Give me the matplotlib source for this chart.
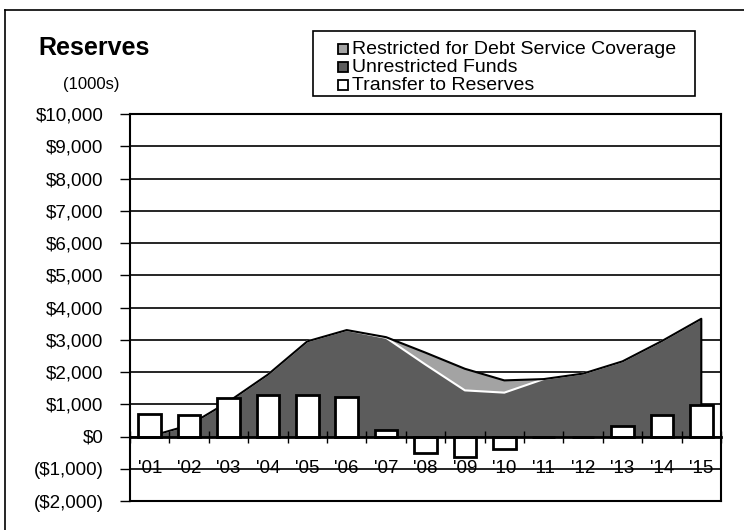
import numpy as np
import matplotlib.pyplot as plt
from matplotlib.patches import Rectangle
from matplotlib.lines import Line2D

plt.rcParams['font.family'] = ['Liberation Sans', 'DejaVu Sans']

# reserves by fiscal year, in $1000s
years = ["'01", "'02", "'03", "'04", "'05", "'06", "'07", "'08",
         "'09", "'10", "'11", "'12", "'13", "'14", "'15"]
unrestricted = [0, 350, 1080, 1920, 2950, 3300, 3060, 2230,
                1430, 1360, 1780, 1950, 2330, 2960, 3650]
restricted = [0, 0, 0, 0, 0, 0, 20, 370, 670, 380, 0, 0, 0, 0, 0]
transfer = [690, 670, 1180, 1300, 1280, 1230, 200, -500,
            -640, -400, 0, 0, 330, 680, 990]

W, H = 744, 530
fig = plt.figure(figsize=(W / 100, H / 100), dpi=100)
ax = fig.add_axes([130 / W, 1 - 501 / H, 591 / W, 387 / H])

def px(x, y):
    return x / W, 1 - y / H

x = np.arange(len(years))
unres = np.array(unrestricted, dtype=float)
total = unres + np.array(restricted, dtype=float)

# gridlines every 1000
for v in range(-1000, 10000, 1000):
    ax.axhline(v, color='black', lw=1.2, zorder=0)

ax.fill_between(x, 0, unres, facecolor='#5c5c5c', edgecolor='none', zorder=1)
ax.fill_between(x, unres, total, facecolor='#a3a3a3', edgecolor='none', zorder=1)
ax.plot(x, unres, color='white', lw=1.5, zorder=2)
ax.plot(list(x) + [x[-1]], list(total) + [0], color='black', lw=1.5, zorder=2)

ax.bar(x, transfer, width=0.57, facecolor='white', edgecolor='black',
       linewidth=2, zorder=3)

ax.set_xlim(-0.5, len(years) - 0.5)
ax.set_ylim(-2000, 10000)
ax.set_yticks(range(-2000, 10001, 1000))
ax.set_yticklabels(['($2,000)', '($1,000)', '$0'] +
                   ['${:,}'.format(v) for v in range(1000, 10001, 1000)])
ax.tick_params(axis='y', direction='out', length=7, width=1, pad=12,
               labelsize=13.5)

# category axis sits at zero, labels ride on the -1000 line
ax.spines['bottom'].set_position(('data', 0))
ax.spines['bottom'].set_linewidth(2)
ax.spines['bottom'].set_zorder(4)
ax.set_xticks(np.arange(-0.5, len(years), 1))
ax.tick_params(axis='x', direction='inout', length=9, width=1,
               labelbottom=False)
for sp in ['top', 'left', 'right']:
    ax.spines[sp].set_linewidth(1.5)
ax.axhline(-2000, color='black', lw=1.5, clip_on=False, zorder=4)
for i, lab in enumerate(years):
    ax.text(i, -1000, lab, ha='center', va='center', fontsize=13.5, zorder=5)

# titles
fig.text(*px(38, 48), 'Reserves', fontsize=18, fontweight='bold',
         ha='left', va='center')
fig.text(*px(91, 85), '(1000s)', fontsize=12, ha='center', va='center')

# outer frame (top and left edges)
fig.add_artist(Line2D([5 / W, 1], [1 - 10 / H] * 2, color='black', lw=1.2,
                      transform=fig.transFigure))
fig.add_artist(Line2D([5 / W] * 2, [0, 1 - 10 / H], color='black', lw=1.2,
                      transform=fig.transFigure))

# legend
bx0, by0, bx1, by1 = 313, 31, 695, 96
fig.add_artist(Rectangle(px(bx0, by1), (bx1 - bx0) / W, (by1 - by0) / H,
                         facecolor='white', edgecolor='black', lw=1.2,
                         transform=fig.transFigure))
entries = [('Restricted for Debt Service Coverage', '#a3a3a3'),
           ('Unrestricted Funds', '#5c5c5c'),
           ('Transfer to Reserves', 'white')]
for k, (lab, col) in enumerate(entries):
    yc = 49 + 18 * k
    fig.add_artist(Rectangle(px(338, yc + 5), 10 / W, 10 / H, facecolor=col,
                             edgecolor='black', lw=1.3,
                             transform=fig.transFigure))
    fig.text(*px(352, yc), lab, fontsize=14, ha='left', va='center')

fig.savefig('out.png', dpi=100)
